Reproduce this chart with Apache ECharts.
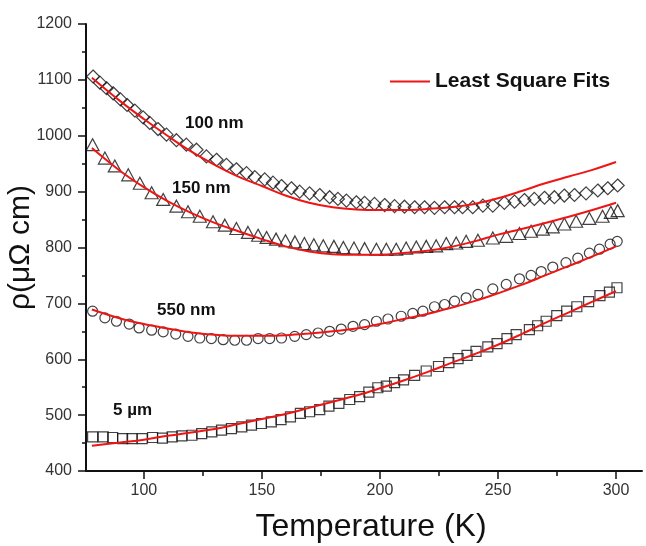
<!DOCTYPE html>
<html>
<head>
<meta charset="utf-8">
<script src="https://cdn.jsdelivr.net/npm/echarts@6/dist/echarts.min.js"></script>
<style>
  html, body { margin: 0; padding: 0; background: #fff; }
  #chart { width: 646px; height: 546px; }
</style>
</head>
<body>
<div id="chart"></div>
<script>
// measured points (temperature K, resistivity µΩ cm)
var tDiamond = [78.5, 81.4, 84.2, 87.0, 90.1, 92.9, 96.2, 99.7, 102.5, 106.0, 109.6, 113.8, 118.0, 122.3, 126.5, 130.8, 135.0, 139.2, 143.5, 147.0, 151.2, 154.7, 158.3, 162.5, 166.0, 170.2, 174.5, 178.7, 182.2, 185.8, 190.0, 193.5, 197.7, 202.0, 206.2, 210.4, 214.7, 218.9, 223.1, 227.4, 231.6, 235.0, 239.3, 243.6, 247.8, 252.7, 257.0, 261.2, 265.4, 269.7, 273.9, 278.1, 282.4, 287.3, 292.3, 296.5, 300.7];
var vDiamond = [1106, 1095, 1085, 1076, 1065, 1055, 1045, 1033, 1023, 1012, 1002, 992, 984, 975, 963, 957, 948, 940, 933, 926, 922, 916, 910, 906, 900, 897, 894, 890, 887, 884, 881, 880, 878, 876, 874, 873, 872, 872, 871, 872, 872, 872, 872, 875, 875, 880, 882, 885, 887, 889, 890, 893, 894, 897, 902, 906, 911];

var tTriangle = [78.3, 83.5, 87.7, 93.4, 98.3, 103.3, 108.2, 113.8, 118.7, 123.7, 129.3, 134.3, 139.2, 144.1, 148.4, 152.0, 156.0, 160.0, 164.0, 168.0, 172.0, 176.0, 180.5, 184.5, 189.0, 193.5, 198.5, 202.7, 206.9, 211.1, 215.4, 219.6, 223.8, 228.1, 232.3, 236.5, 241.5, 247.8, 253.5, 259.1, 264.0, 269.0, 273.2, 278.1, 283.1, 288.7, 294.3, 297.8, 300.7];
var vTriangle = [984, 960, 946, 930, 915, 898, 886, 874, 864, 856, 846, 840, 834, 827, 822, 818, 815, 812, 810, 807, 805, 803, 802, 800, 799, 798, 797, 797, 797, 799, 801, 802, 803, 807, 808, 811, 813, 817, 820, 825, 829, 833, 837, 842, 847, 852, 856, 863, 866];

var tCircle = [78.3, 83.5, 88.4, 93.8, 98.0, 103.3, 108.2, 113.5, 118.7, 123.7, 128.6, 133.6, 138.5, 143.5, 148.4, 153.3, 158.3, 163.9, 168.8, 173.8, 178.7, 183.6, 188.6, 193.5, 198.5, 203.4, 209.0, 213.9, 218.2, 223.1, 227.4, 231.6, 236.5, 241.5, 247.8, 253.5, 259.1, 264.0, 268.3, 273.2, 278.8, 283.8, 288.7, 293.0, 297.5, 300.5];
var vCircle = [686, 674, 668, 663, 656, 652, 649, 645, 641, 638, 637, 635, 634, 634, 637, 637, 638, 641, 644, 647, 650, 654, 659, 662, 668, 672, 677, 682, 686, 694, 698, 704, 710, 716, 726, 734, 744, 750, 757, 765, 773, 781, 790, 797, 806, 811];

var tSquare = [78.3, 82.8, 86.8, 91.0, 95.0, 99.3, 103.7, 107.9, 112.0, 116.1, 120.4, 124.5, 128.8, 132.9, 137.1, 141.5, 145.6, 149.8, 154.0, 158.1, 162.1, 166.3, 170.2, 174.5, 178.4, 182.6, 187.2, 191.4, 195.3, 199.1, 202.7, 206.2, 210.0, 214.7, 219.6, 224.8, 229.2, 233.1, 236.9, 240.7, 245.7, 249.6, 253.8, 257.7, 263.3, 266.8, 270.4, 274.9, 279.1, 283.4, 288.4, 293.2, 297.2, 300.4];
var vSquare = [461, 461, 460, 458, 458, 458, 460, 459, 461, 463, 464, 467, 470, 473, 476, 479, 482, 485, 488, 492, 497, 503, 506, 510, 516, 521, 528, 533, 541, 549, 552, 558, 563, 571, 579, 587, 594, 601, 607, 614, 622, 628, 637, 644, 653, 660, 668, 678, 686, 694, 703, 714, 720, 728];

// least square fit curves
var fitTemps = [78, 90, 100, 110, 120, 130, 140, 150, 160, 170, 180, 190, 200, 210, 220, 230, 240, 250, 260, 270, 280, 290, 300];
var fit100 = [1104, 1062, 1030, 1000, 972, 948, 927, 910, 893, 880, 872, 868, 867, 867, 869, 872, 878, 888, 901, 915, 927, 939, 953];
var fit150 = [978, 937, 908, 883, 862, 844, 829, 815, 802, 793, 788, 787, 787, 790, 794, 801, 811, 823, 833, 844, 855, 867, 880];
var fit550 = [689, 673, 663, 655, 648, 644, 642, 642, 643, 646, 650, 655, 663, 672, 681, 692, 704, 718, 733, 750, 767, 784, 802];
var fit5um = [445, 451, 456, 463, 469, 475, 484, 493, 502, 513, 524, 535, 548, 562, 577, 593, 609, 626, 645, 665, 684, 703, 722];

var xMajor = [100, 150, 200, 250, 300];
var xMinor = [125, 175, 225, 275];

var FONT = '"Liberation Sans", Arial, sans-serif';
var RED = '#ee1515';

function pairs(xs, ys) {
    return xs.map(function (x, i) { return [x, ys[i]]; });
}

function markers(name, symbol, size, xs, ys) {
    return {
        name: name,
        type: 'scatter',
        symbol: symbol,
        symbolSize: size,
        data: pairs(xs, ys),
        itemStyle: {
            color: 'rgba(0,0,0,0)',
            borderColor: '#111',
            borderWidth: 1.2
        },
        z: 3
    };
}

function fitLine(ys) {
    return {
        name: 'Least Square Fits',
        type: 'line',
        smooth: 0.4,
        symbol: 'none',
        data: pairs(fitTemps, ys),
        lineStyle: { color: RED, width: 2 },
        itemStyle: { color: RED },
        z: 4
    };
}

function tag(text, x, y) {
    return {
        type: 'text',
        x: x,
        y: y,
        style: {
            text: text,
            font: 'bold 17px ' + FONT,
            fill: '#111',
            verticalAlign: 'middle'
        }
    };
}

var myChart = echarts.init(document.getElementById('chart'), null, { renderer: 'canvas' });

var axisLine = { lineStyle: { color: '#111', width: 2 } };

myChart.setOption({
    backgroundColor: '#fff',
    animation: false,
    grid: { left: 86, top: 24, right: 4, bottom: 75, outerBoundsMode: 'none', containLabel: false },
    legend: {
        data: [{ name: 'Least Square Fits', icon: 'rect' }],
        left: 385,
        top: 66,
        itemWidth: 40,
        itemHeight: 2,
        selectedMode: false,
        textStyle: { fontFamily: FONT, fontWeight: 'bold', fontSize: 21, color: '#111' }
    },
    xAxis: [{
        type: 'value',
        position: 'bottom',
        min: 75.5,
        max: 311,
        name: 'Temperature (K)',
        nameLocation: 'middle',
        nameGap: 40,
        nameMoveOverlap: false,
        nameTextStyle: { fontFamily: FONT, fontSize: 32, color: '#111', padding: [0, 0, 0, 14] },
        axisLine: axisLine,
        axisTick: { customValues: xMajor, length: 8, lineStyle: { color: '#111', width: 1.5 } },
        axisLabel: { customValues: xMajor, margin: 12, fontFamily: FONT, fontSize: 16, color: '#333' },
        splitLine: { show: false }
    }, {
        type: 'value',
        position: 'bottom',
        min: 75.5,
        max: 311,
        axisLine: { show: false },
        axisTick: { customValues: xMinor, length: 5, lineStyle: { color: '#111', width: 1.5 } },
        axisLabel: { show: false },
        splitLine: { show: false }
    }],
    yAxis: {
        type: 'value',
        min: 400,
        max: 1200,
        interval: 100,
        name: 'ρ(μΩ cm)',
        nameLocation: 'middle',
        nameGap: 50,
        nameMoveOverlap: false,
        nameTextStyle: { fontFamily: FONT, fontSize: 30, color: '#111' },
        axisLine: { show: true, lineStyle: { color: '#111', width: 2 } },
        axisTick: { show: true, length: 8, lineStyle: { color: '#111', width: 1.5 } },
        minorTick: { show: true, splitNumber: 2, length: 4, lineStyle: { color: '#111', width: 1.5 } },
        axisLabel: {
            margin: 14, fontFamily: FONT, fontSize: 16, color: '#333',
            formatter: function (v) { return String(v); }
        },
        splitLine: { show: false }
    },
    graphic: [
        tag('100 nm', 185, 123),
        tag('150 nm', 172, 188),
        tag('550 nm', 157, 310),
        tag('5 µm', 113, 410)
    ],
    series: [
        fitLine(fit100),
        fitLine(fit150),
        fitLine(fit550),
        fitLine(fit5um),
        markers('100 nm', 'diamond', [13, 13], tDiamond, vDiamond),
        markers('150 nm', 'triangle', [13, 12], tTriangle, vTriangle),
        markers('550 nm', 'circle', 10, tCircle, vCircle),
        markers('5 µm', 'rect', 10, tSquare, vSquare)
    ]
});
</script>
</body>
</html>
